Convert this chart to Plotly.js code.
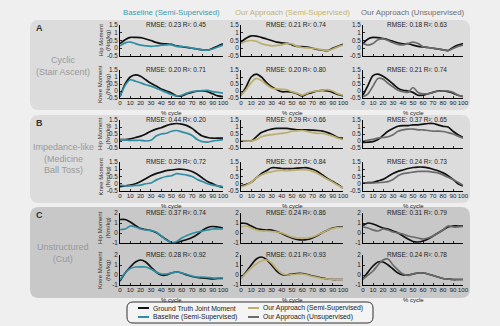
<!DOCTYPE html>
<html><head><meta charset="utf-8">
<script src="https://cdn.plot.ly/plotly-3.0.1.min.js"></script>
<style>html,body{margin:0;padding:0;background:#efefef}#chart{width:500px;height:326px}</style>
</head><body><div id="chart"></div>
<script>
// ---------- data ----------
const pct = [0,5,10,15,20,25,30,35,40,45,50,55,60,65,70,75,80,85,90,95,100];
const xTicks = [0,10,20,30,40,50,60,70,80,90,100];
const yTicksAB = [-0.5,0,0.5,1,1.5];
const yTickTextAB = ['-0.5','0','0.5','1','1.5'];
const yTicksC = [-1,0,1,2];
const yTickTextC = ['-1','0','1','2'];

const columnTitles = ['Baseline (Semi-Supervised)','Our Approach (Semi-Supervised)','Our Approach (Unsupervised)'];
const sectionLetters = ['A','B','C'];
const sectionNames = ['Cyclic<br>(Stair Ascent)','Impedance-like<br>(Medicine<br>Ball Toss)','Unstructured<br>(Cut)'];
const jointLabels = ['Hip Moment<br>(Nm/kg)','Knee Moment<br>(Nm/kg)'];
const legendNames = ['Ground Truth Joint Moment','Baseline (Semi-Supervised)','Our Approach (Semi-Supervised)','Our Approach (Unsupervised)'];

const rmseA_hip  = ['RMSE: 0.23 R²: 0.45','RMSE: 0.21 R²: 0.74','RMSE: 0.18 R²: 0.63'];
const rmseA_knee = ['RMSE: 0.20 R²: 0.71','RMSE: 0.20 R²: 0.80','RMSE: 0.21 R²: 0.74'];
const rmseB_hip  = ['RMSE: 0.44 R²: 0.20','RMSE: 0.29 R²: 0.66','RMSE: 0.37 R²: 0.65'];
const rmseB_knee = ['RMSE: 0.29 R²: 0.72','RMSE: 0.22 R²: 0.84','RMSE: 0.24 R²: 0.73'];
const rmseC_hip  = ['RMSE: 0.37 R²: 0.74','RMSE: 0.24 R²: 0.86','RMSE: 0.31 R²: 0.79'];
const rmseC_knee = ['RMSE: 0.28 R²: 0.92','RMSE: 0.21 R²: 0.93','RMSE: 0.24 R²: 0.78'];

// A: cyclic (stair ascent)
const A_hip_gt_base   = [0.3,0.55,0.7,0.7,0.68,0.6,0.5,0.38,0.3,0.28,0.25,0.15,0.1,0.05,0.0,-0.05,-0.1,-0.12,0.0,0.15,0.28];
const A_hip_base      = [0.15,0.35,0.4,0.3,0.2,0.15,0.12,0.15,0.2,0.22,0.22,0.12,0.1,0.08,0.0,-0.05,-0.1,-0.12,-0.05,0.08,0.2];
const A_hip_gt_semi   = [0.4,0.65,0.8,0.78,0.7,0.6,0.5,0.4,0.35,0.32,0.22,0.12,0.1,0.08,0.0,-0.08,-0.12,-0.15,0.0,0.12,0.25];
const A_hip_semi      = [0.3,0.45,0.5,0.45,0.3,0.22,0.15,0.18,0.22,0.3,0.28,0.12,0.05,0.02,0.0,-0.05,-0.1,-0.15,-0.05,0.1,0.2];
const A_hip_gt_unsup  = [0.3,0.6,0.7,0.68,0.62,0.55,0.45,0.35,0.28,0.3,0.2,0.12,0.08,0.05,0.0,-0.05,-0.1,-0.15,0.05,0.2,0.3];
const A_hip_unsup     = [0.3,0.2,0.3,0.55,0.6,0.5,0.35,0.25,0.22,0.3,0.4,0.3,0.1,0.05,0.0,-0.05,-0.1,-0.15,-0.02,0.12,0.2];
const A_knee_gt_base  = [-0.4,0.5,1.0,1.15,1.05,0.8,0.55,0.35,0.15,0.0,-0.15,-0.35,-0.35,-0.2,-0.1,-0.02,0.0,-0.05,-0.2,-0.35,-0.4];
const A_knee_base     = [-0.4,0.4,0.8,0.7,0.58,0.45,0.35,0.2,0.05,-0.1,-0.25,-0.35,-0.3,-0.15,-0.05,0.0,0.02,0.05,-0.05,-0.1,-0.15];
const A_knee_gt_semi  = [-0.3,0.3,1.0,1.2,1.0,0.6,0.3,0.1,-0.05,-0.05,-0.08,-0.2,-0.35,-0.2,-0.1,0.0,0.05,0.0,-0.1,-0.25,-0.35];
const A_knee_semi     = [-0.3,0.1,0.6,0.9,0.75,0.45,0.22,0.15,0.12,0.08,-0.05,-0.15,-0.3,-0.15,-0.05,0.0,0.05,0.1,0.0,-0.2,-0.3];
const A_knee_gt_unsup = [-0.3,0.4,1.1,1.2,1.05,0.8,0.5,0.2,0.05,0.0,-0.1,-0.3,-0.3,-0.2,-0.1,0.0,0.0,-0.05,-0.15,-0.3,-0.4];
const A_knee_unsup    = [-0.4,-0.2,0.35,0.9,0.85,0.55,0.3,0.05,-0.05,-0.1,0.25,-0.1,-0.2,-0.2,-0.1,-0.02,0.0,0.0,-0.1,-0.3,-0.4];

// B: impedance-like (medicine ball toss)
const B_hip_gt_base   = [0.1,0.1,0.15,0.25,0.35,0.5,0.7,0.85,0.95,1.1,1.2,1.25,1.2,1.1,0.9,0.6,0.35,0.25,0.2,0.2,0.2];
const B_hip_base      = [0.1,0.08,0.05,0.05,0.05,0.0,0.05,0.35,0.5,0.55,0.7,0.75,0.65,0.55,0.4,0.1,-0.05,-0.08,0.0,0.05,0.1];
const B_hip_gt_semi   = [0.0,0.0,0.0,0.3,0.6,0.75,0.85,0.9,0.9,0.9,0.85,0.8,0.8,0.8,0.78,0.75,0.7,0.6,0.45,0.25,0.2];
const B_hip_semi      = [0.0,0.0,0.0,0.1,0.3,0.4,0.45,0.5,0.55,0.6,0.7,0.72,0.75,0.68,0.6,0.55,0.55,0.45,0.35,0.2,0.1];
const B_hip_gt_unsup  = [-0.1,-0.08,-0.05,0.1,0.4,0.7,0.9,1.05,1.1,1.1,1.15,1.15,1.2,1.25,1.25,1.15,1.05,1.0,0.7,0.45,0.25];
const B_hip_unsup     = [0.0,0.05,0.12,0.2,0.25,0.3,0.45,0.7,0.8,0.85,0.85,0.8,0.8,0.75,0.7,0.7,0.68,0.6,0.5,0.35,0.2];
const B_knee_gt_base  = [-0.2,-0.15,-0.1,0.0,0.15,0.35,0.55,0.7,0.8,0.9,0.95,1.0,1.0,0.95,0.85,0.65,0.4,0.15,0.0,-0.15,-0.25];
const B_knee_base     = [-0.1,-0.15,-0.15,-0.12,-0.1,0.0,0.05,0.25,0.4,0.5,0.55,0.7,0.65,0.6,0.5,0.3,0.15,0.0,-0.1,-0.15,-0.2];
const B_knee_gt_semi  = [-0.15,-0.05,0.1,0.4,0.7,0.9,1.1,1.1,1.05,1.05,1.05,1.08,1.1,1.1,1.0,0.85,0.6,0.35,0.15,-0.05,-0.3];
const B_knee_semi     = [-0.2,-0.1,0.1,0.4,0.6,0.75,0.82,0.9,0.92,0.9,0.92,0.95,0.98,0.95,0.85,0.7,0.5,0.3,0.1,-0.1,-0.3];
const B_knee_gt_unsup = [0.05,0.08,0.1,0.2,0.3,0.5,0.7,0.85,0.95,1.05,1.12,1.15,1.15,1.1,1.0,0.9,0.75,0.55,0.3,0.0,-0.15];
const B_knee_unsup    = [0.05,0.05,0.05,0.08,0.1,0.15,0.3,0.55,0.7,0.75,0.8,0.85,0.85,0.85,0.8,0.75,0.6,0.45,0.3,0.1,-0.1];

// C: unstructured (cut)
const C_hip_gt_base   = [1.35,1.35,1.1,0.75,0.45,0.35,0.25,0.05,-0.3,-0.65,-0.95,-0.95,-0.8,-0.65,-0.45,-0.15,0.25,0.55,0.65,0.6,0.5];
const C_hip_base      = [0.35,0.4,0.7,0.6,0.4,0.3,0.25,0.1,-0.3,-0.7,-0.95,-0.85,-0.5,-0.25,-0.05,0.1,0.2,0.3,0.4,0.4,0.4];
const C_hip_gt_semi   = [1.0,0.95,0.7,0.45,0.35,0.3,0.3,0.15,-0.05,-0.3,-0.5,-0.65,-0.7,-0.65,-0.5,-0.25,0.05,0.3,0.5,0.6,0.6];
const C_hip_semi      = [0.6,0.7,0.5,0.3,0.2,0.2,0.15,0.1,0.0,-0.2,-0.4,-0.5,-0.5,-0.5,-0.4,-0.2,0.05,0.3,0.45,0.55,0.55];
const C_hip_gt_unsup  = [0.75,1.0,0.9,0.7,0.5,0.4,0.2,0.0,-0.3,-0.6,-0.85,-0.9,-0.8,-0.6,-0.3,0.0,0.3,0.6,0.7,0.7,0.7];
const C_hip_unsup     = [0.6,0.5,0.3,0.2,0.4,0.3,0.1,0.0,-0.1,-0.3,-0.4,-0.5,-0.6,-0.5,-0.3,0.0,0.3,0.7,0.6,0.6,0.65];
const C_knee_gt_base  = [-0.6,0.2,0.8,1.3,1.5,1.3,0.8,0.3,0.0,0.0,0.2,0.3,0.2,0.0,-0.15,-0.25,-0.3,-0.35,-0.4,-0.35,-0.35];
const C_knee_base     = [-0.5,0.2,0.65,0.8,0.82,0.8,0.6,0.3,0.1,0.1,0.2,0.3,0.2,0.05,-0.1,-0.2,-0.2,-0.25,-0.3,-0.3,-0.3];
const C_knee_gt_semi  = [-0.3,0.3,1.0,1.6,1.8,1.55,1.0,0.4,0.05,0.0,0.1,0.15,0.15,0.05,-0.1,-0.2,-0.3,-0.4,-0.45,-0.45,-0.45];
const C_knee_semi     = [-0.3,0.2,0.7,1.1,1.4,1.5,1.2,0.6,0.15,0.0,0.05,0.08,0.1,0.0,-0.15,-0.25,-0.35,-0.4,-0.45,-0.45,-0.45];
const C_knee_gt_unsup = [-0.4,0.3,0.9,1.3,1.3,1.0,0.6,0.2,0.0,0.0,0.1,0.2,0.2,0.1,-0.05,-0.2,-0.35,-0.4,-0.45,-0.45,-0.45];
const C_knee_unsup    = [-0.4,0.0,0.4,1.0,1.5,1.6,1.0,0.5,0.1,-0.05,0.1,0.2,0.2,0.1,-0.05,-0.2,-0.35,-0.4,-0.45,-0.45,-0.45];

// ---------- assembly ----------
const W = 500, H = 326;
const FONT = 'Arial, "Liberation Sans", sans-serif';
const GT_COLOR = '#111111';
const colColors = ['#2f8ea3', '#bcae6e', '#6b6b6b'];
const headColors = ['#3d9ab0', '#c2b46e', '#6e6e6e'];
const colPx = [[120,223],[241,343],[363,463]];
const rowPx = [[25,56],[70,98],[120,148],[162,191],[213,243],[255,285]];
const px = x => x / W;
const py = y => 1 - y / H;

const rows = [
  {gt:[A_hip_gt_base,A_hip_gt_semi,A_hip_gt_unsup], pr:[A_hip_base,A_hip_semi,A_hip_unsup], rmse:rmseA_hip, sec:0, joint:0},
  {gt:[A_knee_gt_base,A_knee_gt_semi,A_knee_gt_unsup], pr:[A_knee_base,A_knee_semi,A_knee_unsup], rmse:rmseA_knee, sec:0, joint:1},
  {gt:[B_hip_gt_base,B_hip_gt_semi,B_hip_gt_unsup], pr:[B_hip_base,B_hip_semi,B_hip_unsup], rmse:rmseB_hip, sec:1, joint:0},
  {gt:[B_knee_gt_base,B_knee_gt_semi,B_knee_gt_unsup], pr:[B_knee_base,B_knee_semi,B_knee_unsup], rmse:rmseB_knee, sec:1, joint:1},
  {gt:[C_hip_gt_base,C_hip_gt_semi,C_hip_gt_unsup], pr:[C_hip_base,C_hip_semi,C_hip_unsup], rmse:rmseC_hip, sec:2, joint:0},
  {gt:[C_knee_gt_base,C_knee_gt_semi,C_knee_gt_unsup], pr:[C_knee_base,C_knee_semi,C_knee_unsup], rmse:rmseC_knee, sec:2, joint:1}
];

const traces = [];
const layout = {
  width: W, height: H,
  margin: {l:0, r:0, t:0, b:0},
  paper_bgcolor: '#efefef',
  plot_bgcolor: 'rgba(0,0,0,0)',
  showlegend: false,
  font: {family: FONT, size: 7, color: '#222'},
  annotations: [],
  shapes: []
};

function rrPath(x0,y0,x1,y1,r){
  const P = (x,y) => px(x).toFixed(5)+','+py(y).toFixed(5);
  return 'M'+P(x0+r,y0)+' L'+P(x1-r,y0)+' Q'+P(x1,y0)+' '+P(x1,y0+r)+
         ' L'+P(x1,y1-r)+' Q'+P(x1,y1)+' '+P(x1-r,y1)+
         ' L'+P(x0+r,y1)+' Q'+P(x0,y1)+' '+P(x0,y1-r)+
         ' L'+P(x0,y0+r)+' Q'+P(x0,y0)+' '+P(x0+r,y0)+' Z';
}

// section panels
const panelPx = [[30,20,470,110],[30,115,470,203],[30,207,470,298]];
const panelFill = ['#dcdcdc','#dcdcdc','#c8c8c8'];
panelPx.forEach((p,i)=>{
  layout.shapes.push({type:'path', xref:'paper', yref:'paper', layer:'below',
    path: rrPath(p[0],p[1],p[2],p[3],9), fillcolor: panelFill[i], line:{width:0}});
  layout.annotations.push({xref:'paper', yref:'paper', x:px(34), y:py(p[1]+8), xanchor:'left', yanchor:'middle',
    text:'<b>'+sectionLetters[i]+'</b>', showarrow:false, font:{size:9, color:'#333'}});
});
const sectionCenterY = [66, 158, 253];
sectionNames.forEach((t,i)=>{
  layout.annotations.push({xref:'paper', yref:'paper', x:px(63), y:py(sectionCenterY[i]), xanchor:'center', yanchor:'middle',
    text:t, showarrow:false, font:{size:9, color:'#999'}});
});

// column headers
columnTitles.forEach((t,c)=>{
  layout.annotations.push({xref:'paper', yref:'paper', x:px((colPx[c][0]+colPx[c][1])/2), y:py(12), xanchor:'center', yanchor:'middle',
    text:t, showarrow:false, font:{size:7.8, color:headColors[c]}});
});

let n = 0;
rows.forEach((row, r)=>{
  const isC = row.sec === 2;
  for (let c = 0; c < 3; c++){
    n++;
    const xa = 'xaxis' + (n===1?'':n), ya = 'yaxis' + (n===1?'':n);
    const xr = 'x' + (n===1?'':n), yr = 'y' + (n===1?'':n);
    layout[xa] = {
      domain:[px(colPx[c][0]), px(colPx[c][1])], range:[0,100], anchor: yr,
      tickvals: xTicks, showticklabels: row.joint === 1, tickangle: 0, ticklabelstandoff: -1,
      ticks:'inside', ticklen:2, tickcolor:'#000', tickwidth:0.8,
      showline:true, linecolor:'#000', linewidth:1, showgrid:false, zeroline:false,
      tickfont:{size:6.2, color:'#222'}, fixedrange:true
    };
    layout[ya] = {
      domain:[py(rowPx[r][1]), py(rowPx[r][0])], range: isC ? [-1,2] : [-0.5,1.5], anchor: xr,
      tickvals: isC ? yTicksC : yTicksAB, ticktext: isC ? yTickTextC : yTickTextAB,
      ticks:'inside', ticklen:2, tickcolor:'#000', tickwidth:0.8,
      showline:true, linecolor:'#000', linewidth:1, showgrid:false, zeroline:false,
      tickfont:{size:6.3, color:'#222'}, fixedrange:true
    };
    traces.push({x:pct, y:row.gt[c], xaxis:xr, yaxis:yr, mode:'lines', name:legendNames[0],
      line:{color:GT_COLOR, width:1.7, shape:'spline', smoothing:0.9}, hoverinfo:'skip'});
    traces.push({x:pct, y:row.pr[c], xaxis:xr, yaxis:yr, mode:'lines', name:legendNames[c+1],
      line:{color:colColors[c], width:1.7, shape:'spline', smoothing:0.9}, hoverinfo:'skip'});
    layout.annotations.push({xref:'paper', yref:'paper', x:px((colPx[c][0]+colPx[c][1])/2+4), y:py(rowPx[r][0]-1),
      xanchor:'center', yanchor:'middle', text:row.rmse[c], showarrow:false, font:{size:6.5, color:'#222'}});
    if (row.joint === 1){
      layout.annotations.push({xref:'paper', yref:'paper', x:px((colPx[c][0]+colPx[c][1])/2), y:py(rowPx[r][1]+10),
        xanchor:'center', yanchor:'top', text:'% cycle', showarrow:false, font:{size:6, color:'#222'}});
    }
    if (c === 0){
      layout.annotations.push({xref:'paper', yref:'paper', x:px(104), y:py((rowPx[r][0]+rowPx[r][1])/2),
        xanchor:'center', yanchor:'middle', textangle:-90, text:jointLabels[row.joint], showarrow:false,
        font:{size:6, color:'#333'}});
    }
  }
});

// legend box
layout.shapes.push({type:'path', xref:'paper', yref:'paper', path: rrPath(127,302,373,323,6),
  fillcolor:'#f4f4f4', line:{color:'#333', width:1}});
const legPos = [[138,308],[138,317],[248,308],[248,317]];
const legColors = [GT_COLOR, colColors[0], colColors[1], colColors[2]];
legendNames.forEach((t,i)=>{
  const [lx,ly] = legPos[i];
  layout.shapes.push({type:'line', xref:'paper', yref:'paper', x0:px(lx), x1:px(lx+11), y0:py(ly), y1:py(ly),
    line:{color:legColors[i], width:2}});
  layout.annotations.push({xref:'paper', yref:'paper', x:px(lx+13), y:py(ly), xanchor:'left', yanchor:'middle',
    text:t, showarrow:false, font:{size:6.8, color:'#222'}});
});

Plotly.newPlot('chart', traces, layout, {displayModeBar:false, staticPlot:true});
</script></body></html>
